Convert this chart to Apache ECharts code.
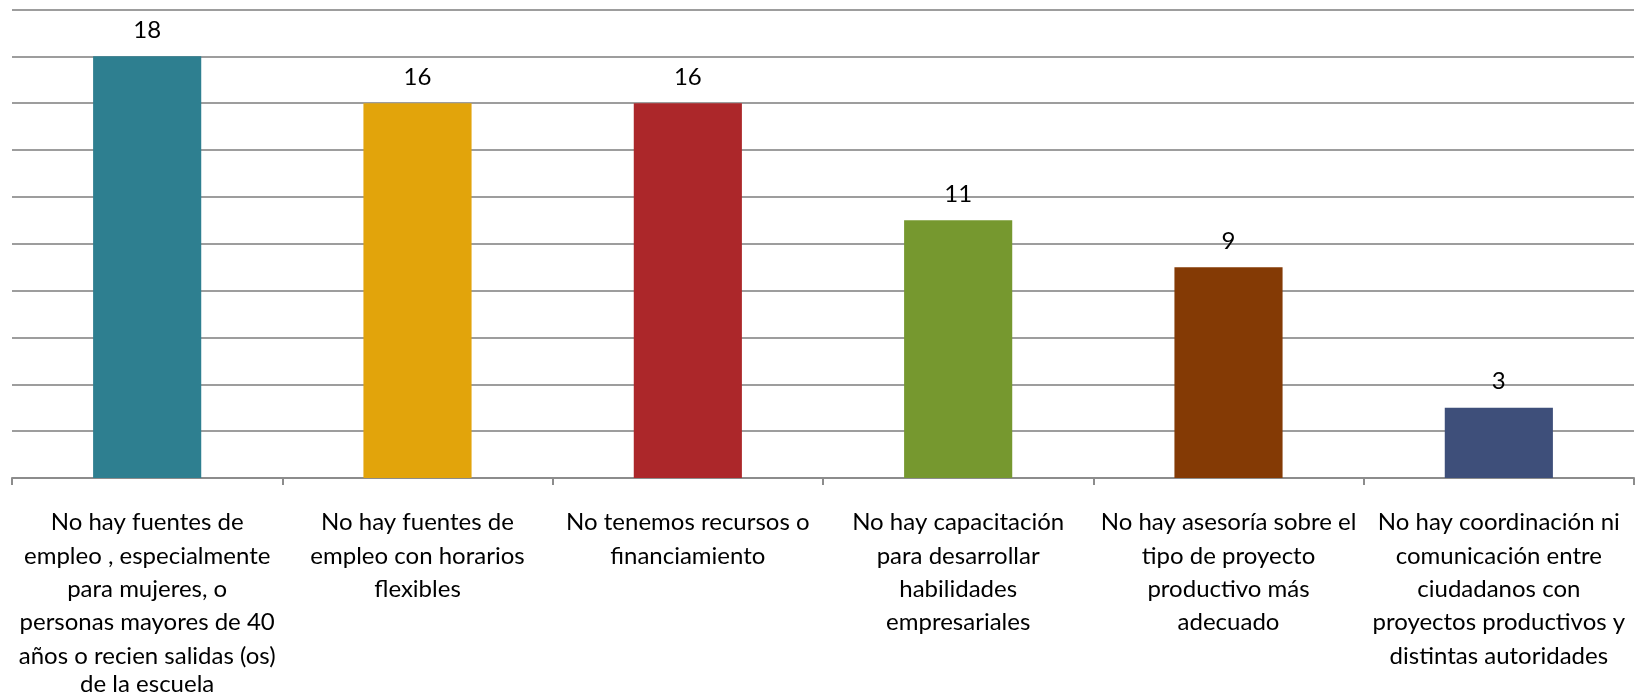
<!DOCTYPE html>
<html><head><meta charset="utf-8">
<script src="https://cdn.jsdelivr.net/npm/echarts@6/dist/echarts.min.js"></script>
<style>html,body{margin:0;padding:0;background:#fff}#c{width:1642px;height:696px}</style>
</head><body><div id="c"></div>
<script>
const categories = [
  "No hay fuentes de\nempleo , especialmente\npara mujeres, o\npersonas mayores de 40\naños o recien salidas (os)\nde la escuela",
  "No hay fuentes de\nempleo con horarios\nflexibles",
  "No tenemos recursos o\nfinanciamiento",
  "No hay capacitación\npara desarrollar\nhabilidades\nempresariales",
  "No hay asesoría sobre el\ntipo de proyecto\nproductivo más\nadecuado",
  "No hay coordinación ni\ncomunicación entre\nciudadanos con\nproyectos productivos y\ndistintas autoridades"
];
const values = [18, 16, 16, 11, 9, 3];
const colors = ["#2E7F90", "#E2A40B", "#AC272A", "#76982F", "#843A05", "#3E4F7A"];

const chart = echarts.init(document.getElementById('c'));
chart.setOption({
  animation: false,
  grid: {left: 12, right: 8, top: 9.5, bottom: 218, containLabel: false, outerBoundsMode: 'none'},
  xAxis: {
    type: 'category', data: categories,
    axisLine: {lineStyle: {color: '#8c8c8c', width: 2}},
    axisTick: {show: true, length: 7, lineStyle: {color: '#8c8c8c', width: 2}},
    axisLabel: {
      interval: 0, color: '#000', fontFamily: 'Lato', fontSize: 24, lineHeight: 33.3, margin: 28, align: 'center',
      formatter: function (v) {
        return v.split('\n').map((l, i) => (i < 5 ? '{n|' + l + '}' : '{s|' + l + '}')).join('\n');
      },
      rich: {
        n: {fontFamily: 'Lato', fontSize: 24, lineHeight: 33.3, color: '#000'},
        s: {fontFamily: 'Lato', fontSize: 24, lineHeight: 24, color: '#000'}
      }
    }
  },
  yAxis: {
    type: 'value', min: 0, max: 20, interval: 2,
    axisLabel: {show: false}, axisLine: {show: false}, axisTick: {show: false},
    splitLine: {lineStyle: {color: '#9d9d9d', width: 2}}
  },
  series: [{
    type: 'bar', barWidth: '40%',
    data: values.map((v, i) => ({value: v, itemStyle: {color: colors[i]}})),
    label: {show: true, position: 'top', distance: 14, color: '#000', fontFamily: 'Lato', fontSize: 24}
  }]
});
</script></body></html>
